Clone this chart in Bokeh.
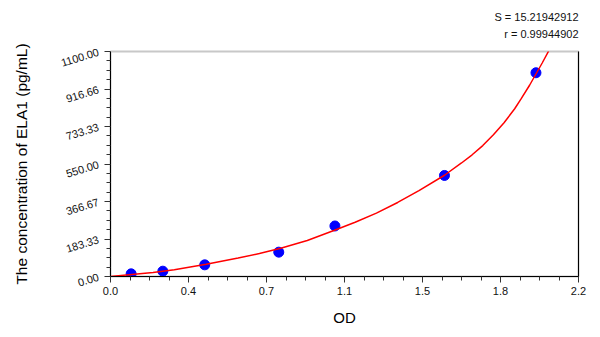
from bokeh.plotting import figure
from bokeh.models import LinearAxis, FixedTicker, Title, Range1d
from bokeh.embed import file_html
from bokeh.resources import INLINE

# measured standards
od = [0.097, 0.246, 0.443, 0.791, 1.055, 1.570, 2.000]
conc = [13, 26, 57, 119, 247, 494, 996]

# fitted curve
curve_od = [0.0, 0.10, 0.20, 0.30, 0.45, 0.60, 0.70, 0.80, 0.925, 1.05, 1.15,
            1.25, 1.35, 1.45, 1.57, 1.65, 1.70, 1.75, 1.80, 1.85, 1.90, 1.93,
            1.97, 2.00, 2.03, 2.06]
curve_conc = [0, 10, 20, 33, 60, 90, 112, 138, 176, 225, 265,
              310, 362, 420, 495, 555, 595, 640, 693, 752, 820, 868,
              935, 990, 1045, 1103]

x_max = 2.2
y_max = 1100.0
x_tick_labels = ["0.0", "0.4", "0.7", "1.1", "1.5", "1.8", "2.2"]
y_tick_labels = ["0.00", "183.33", "366.67", "550.00", "733.33", "916.66", "1100.00"]
stats_lines = ["S = 15.21942912", "r = 0.99944902"]

FONT = "Liberation Sans"

n = len(x_tick_labels) - 1
x_ticks = [x_max * i / n for i in range(n + 1)]
y_ticks = [y_max * i / n for i in range(n + 1)]


def minors(t):
    out = []
    for a, b in zip(t[:-1], t[1:]):
        out += [a + (b - a) * k / 4 for k in (1, 2, 3)]
    return out


p = figure(width=600, height=337, output_backend="svg", toolbar_location=None,
           x_range=Range1d(0, x_max), y_range=Range1d(0, y_max),
           min_border_left=110, min_border_right=22, min_border_top=51,
           min_border_bottom=61)
p.outline_line_color = "#C8C8C8"
p.outline_line_width = 2
p.xgrid.visible = False
p.ygrid.visible = False
p.background_fill_color = "white"
p.border_fill_color = "white"

p.scatter(od, conc, size=10, marker="circle", fill_color="#0000FF",
          line_color="#0000FF")
p.line(curve_od, curve_conc, line_color="#FF0000", line_width=1.5)

for ax, ticks, labels in ((p.xaxis[0], x_ticks, x_tick_labels),
                          (p.yaxis[0], y_ticks, y_tick_labels)):
    ax.ticker = FixedTicker(ticks=ticks, minor_ticks=minors(ticks))
    ax.major_label_overrides = {t: l for t, l in zip(ticks, labels)}
    ax.axis_line_color = "black"
    ax.major_tick_line_color = "#333333"
    ax.minor_tick_line_color = "#333333"
    ax.major_tick_in = 0
    ax.minor_tick_in = 0
    ax.major_tick_out = 6
    ax.minor_tick_out = 4
    ax.major_label_text_font = FONT
    ax.major_label_text_font_size = "11px"
    ax.major_label_text_color = "#111111"
    ax.axis_label_text_font = FONT
    ax.axis_label_text_font_style = "normal"
    ax.axis_label_text_color = "#000000"

p.xaxis.axis_label = "OD"
p.xaxis.axis_label_text_font_size = "15px"
p.xaxis.major_label_standoff = 4
p.xaxis.axis_label_standoff = 11

p.yaxis.axis_label = "The concentration of ELA1 (pg/mL)"
p.yaxis.axis_label_text_font_size = "15.5px"
p.yaxis.major_label_orientation = 0.3
p.yaxis.major_label_standoff = 6
p.yaxis.axis_label_standoff = 26

right = LinearAxis(axis_line_color="black", major_tick_line_color=None,
                   minor_tick_line_color=None, major_label_text_font_size="0px")
right.ticker = FixedTicker(ticks=[])
p.add_layout(right, "right")

# spacer between frame and the statistics lines
p.add_layout(Title(text=" ", text_font_size="1px", standoff=7), "above")
p.add_layout(Title(text=stats_lines[1], align="right", text_font=FONT,
                   text_font_size="11px", text_font_style="normal",
                   text_color="#111111", standoff=4), "above")
p.add_layout(Title(text=stats_lines[0], align="right", text_font=FONT,
                   text_font_size="11px", text_font_style="normal",
                   text_color="#111111", standoff=2), "above")

open("out.html", "w").write(file_html(p, INLINE))
